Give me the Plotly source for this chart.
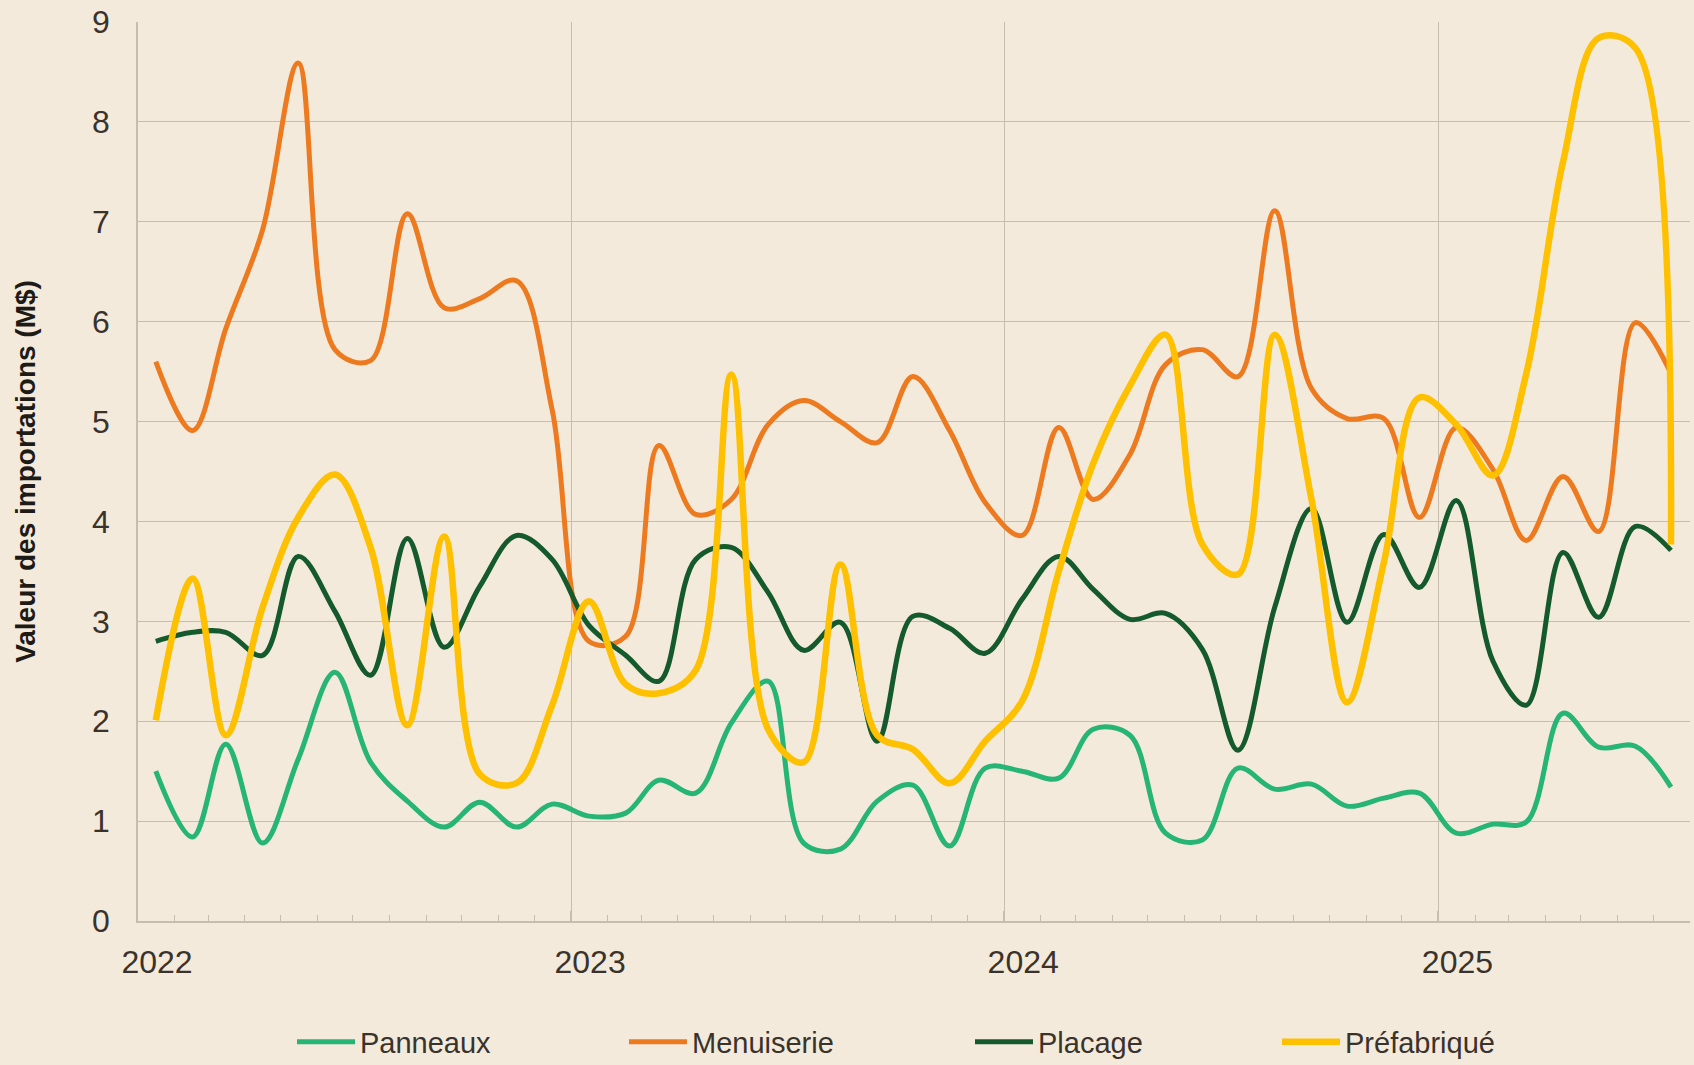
import plotly.graph_objects as go

months = [f"{y}-{m:02d}-16" for y in range(2022, 2026) for m in range(1, 13)][:43]

panneaux = [1.50, 0.84, 1.77, 0.78, 1.62, 2.49, 1.59, 1.20, 0.94, 1.19, 0.94, 1.17,
            1.05, 1.08, 1.41, 1.28, 1.98, 2.40, 0.78, 0.72, 1.20, 1.36, 0.75, 1.53,
            1.50, 1.43, 1.92, 1.86, 0.88, 0.81, 1.53, 1.32, 1.37, 1.15, 1.23, 1.28,
            0.88, 0.97, 0.99, 2.08, 1.74, 1.75, 1.34]
menuiserie = [5.60, 4.91, 5.93, 6.92, 8.59, 5.72, 5.61, 7.08, 6.14, 6.23, 6.41, 5.12,
              2.80, 2.85, 4.76, 4.07, 4.22, 4.97, 5.21, 5.00, 4.79, 5.45, 4.91, 4.19,
              3.86, 4.94, 4.22, 4.67, 5.57, 5.72, 5.45, 7.11, 5.33, 5.03, 5.03, 4.04,
              4.94, 4.52, 3.81, 4.45, 3.90, 5.99, 5.48]
placage = [2.80, 2.89, 2.89, 2.66, 3.65, 3.10, 2.46, 3.83, 2.74, 3.35, 3.86, 3.62,
           2.96, 2.66, 2.40, 3.62, 3.74, 3.29, 2.71, 2.99, 1.80, 3.05, 2.93, 2.68,
           3.22, 3.65, 3.32, 3.02, 3.08, 2.72, 1.71, 3.14, 4.13, 2.99, 3.87, 3.34,
           4.21, 2.60, 2.16, 3.69, 3.04, 3.95, 3.71]
prefabrique = [2.01, 3.43, 1.86, 3.14, 4.04, 4.47, 3.74, 1.96, 3.85, 1.47, 1.38, 2.16,
               3.20, 2.37, 2.28, 2.51, 5.47, 1.92, 1.59, 3.57, 1.86, 1.72, 1.38, 1.80,
               2.20, 3.50, 4.58, 5.36, 5.87, 3.77, 3.47, 5.87, 4.22, 2.19, 3.59, 5.24,
               4.97, 4.46, 5.48, 7.60, 8.84, 8.74, 3.77]

series = [
    ("Panneaux", panneaux, "#26B574", 5, "legend"),
    ("Menuiserie", menuiserie, "#EE7A1F", 5, "legend2"),
    ("Placage", placage, "#145A2C", 5, "legend3"),
    ("Préfabriqué", prefabrique, "#FFC000", 6.5, "legend4"),
]

BG = "#F3EADC"
GRID = "#C7BDAF"
TXT = "#3A332C"
FONT = "Liberation Sans, Arial, sans-serif"

fig = go.Figure()
for name, vals, col, w, lg in series:
    fig.add_trace(go.Scatter(
        x=months, y=vals, name=name, mode="lines",
        line=dict(color=col, width=w, shape="spline", smoothing=1.0),
        legend=lg, showlegend=True,
    ))

W, H = 1694, 1065
leg_y = 1 - 1042 / H
leg_common = dict(orientation="h", xref="container", yref="container", yanchor="middle",
                  xanchor="left", bgcolor="rgba(0,0,0,0)", visible=True, itemwidth=58,
                  font=dict(family=FONT, size=29, color=TXT))
fig.update_layout(
    width=W, height=H,
    showlegend=True,
    paper_bgcolor=BG, plot_bgcolor=BG,
    margin=dict(l=138, r=4, t=19, b=144),
    font=dict(family=FONT, color=TXT),
    legend=dict(x=292 / W, y=leg_y, **leg_common),
    legend2=dict(x=624 / W, y=leg_y, **leg_common),
    legend3=dict(x=970 / W, y=leg_y, **leg_common),
    legend4=dict(x=1277 / W, y=leg_y, **leg_common),
    xaxis=dict(
        type="date", range=["2022-01-01", "2025-08-01"],
        tick0="2022-01-01", dtick="M12", tickformat="%Y",
        ticks="inside", ticklen=10, tickcolor=GRID, tickwidth=1.5,
        ticklabelshift=19, ticklabelstandoff=12,
        showgrid=True, gridcolor=GRID, gridwidth=1.3,
        showline=True, linecolor=GRID, linewidth=2,
        minor=dict(dtick="M1", tick0="2022-01-01", ticks="inside", ticklen=6,
                   tickcolor=GRID, tickwidth=1.3, showgrid=False),
        tickfont=dict(family=FONT, size=32, color=TXT),
        zeroline=False,
    ),
    yaxis=dict(
        range=[0, 9], dtick=1, tick0=0,
        showgrid=True, gridcolor=GRID, gridwidth=1.3,
        showline=True, linecolor=GRID, linewidth=1.5,
        ticks="", ticklabelstandoff=20,
        tickfont=dict(family=FONT, size=32, color=TXT),
        zeroline=False,
        title=dict(text="<b>Valeur des importations (M$)</b>",
                   font=dict(family=FONT, size=28, color="#1E1A16"), standoff=48),
    ),
)

fig.write_html("out.html", config={"displayModeBar": False},
               post_script="document.body.style.margin='0';document.body.style.background='#F3EADC';")
